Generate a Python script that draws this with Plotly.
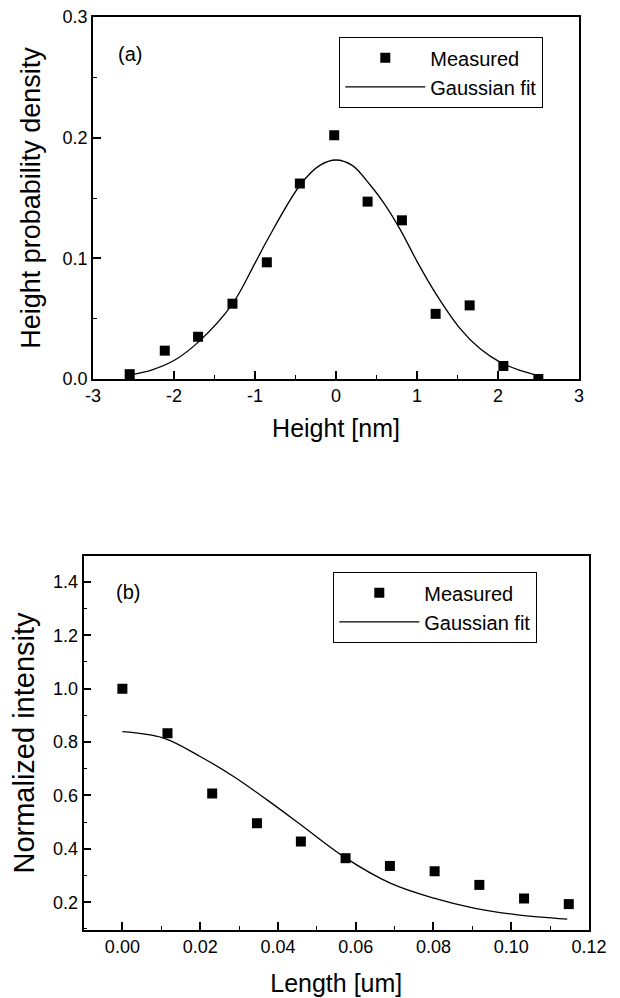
import plotly.graph_objects as go

# The page body has an 8px margin, so the figure is 8px smaller than the window
# and all reference pixel positions are shifted by 8px.
OFF = 8
W, H = 620 - OFF, 998 - OFF
FONT = "Arial, Liberation Sans, sans-serif"


def px(x):
    return (x - OFF) / W


def py(y):
    return 1 - (y - OFF) / H


# ---------------- Panel (a) data ----------------
height_nm = [-2.547, -2.114, -1.703, -1.278, -0.854, -0.446, -0.022, 0.39, 0.814, 1.23, 1.65, 2.066, 2.498]
height_density = [0.004, 0.0235, 0.035, 0.0624, 0.0967, 0.162, 0.202, 0.147, 0.1315, 0.054, 0.061, 0.0108, 0.0]

fit_a_x = [-2.52, -2.27, -1.99, -1.68, -1.28, -1.0, -0.85, -0.44, -0.2, 0.0, 0.2, 0.42, 0.6, 0.8, 1.0, 1.23, 1.53, 1.78, 2.03, 2.27, 2.5]
fit_a_y = [0.0036, 0.0076, 0.0157, 0.0318, 0.0620, 0.0960, 0.1150, 0.1610, 0.1770, 0.1815, 0.1770, 0.1610, 0.1450, 0.1230, 0.0975, 0.0710, 0.0420, 0.0250, 0.0138, 0.0072, 0.0030]

x_a_ticks = [-3, -2, -1, 0, 1, 2, 3]
x_a_labels = ["-3", "-2", "-1", "0", "1", "2", "3"]

# ---------------- Panel (b) data ----------------
length_um = [0.0, 0.0116, 0.0231, 0.0346, 0.0459, 0.0574, 0.0688, 0.0803, 0.0918, 0.1033, 0.1148]
norm_intensity = [1.0, 0.833, 0.607, 0.496, 0.4275, 0.365, 0.336, 0.316, 0.265, 0.214, 0.193]

fit_b_x = [0.0, 0.0106, 0.020, 0.0286, 0.0372, 0.0452, 0.0569, 0.0689, 0.0801, 0.0904, 0.1016, 0.1144]
fit_b_y = [0.839, 0.815, 0.746, 0.671, 0.5835, 0.498, 0.371, 0.2715, 0.215, 0.178, 0.153, 0.137]

series_names = ["Measured", "Gaussian fit"]

fig = go.Figure()

marker_style = dict(symbol="square", size=10, color="black")
line_style = dict(color="black", width=1.3, shape="spline", smoothing=1.0)

fig.add_trace(go.Scatter(x=height_nm, y=height_density, mode="markers", marker=marker_style,
                         name=series_names[0], xaxis="x", yaxis="y", legend="legend"))
fig.add_trace(go.Scatter(x=fit_a_x, y=fit_a_y, mode="lines", line=line_style,
                         name=series_names[1], xaxis="x", yaxis="y", legend="legend"))
fig.add_trace(go.Scatter(x=length_um, y=norm_intensity, mode="markers", marker=marker_style,
                         name=series_names[0], xaxis="x2", yaxis="y2", legend="legend2"))
fig.add_trace(go.Scatter(x=fit_b_x, y=fit_b_y, mode="lines", line=line_style,
                         name=series_names[1], xaxis="x2", yaxis="y2", legend="legend2"))


def axis(**kw):
    base = dict(showline=True, linecolor="black", linewidth=1.6, mirror=True,
                ticks="inside", ticklen=8, tickwidth=1.5, tickcolor="black",
                showgrid=False, zeroline=False, automargin=False, ticklabeloverflow="allow",
                tickfont=dict(family=FONT, size=18, color="black"))
    base.update(kw)
    return base


def minor(d):
    return dict(ticks="inside", ticklen=4, tickwidth=1.2, tickcolor="black", dtick=d, showgrid=False)


legend_common = dict(xanchor="left", yanchor="top", bordercolor="black", borderwidth=1.3,
                     bgcolor="white", font=dict(size=20, family=FONT), itemwidth=80, tracegroupgap=0)

fig.update_layout(
    width=W, height=H,
    template="none",
    paper_bgcolor="white", plot_bgcolor="white",
    margin=dict(l=0, r=0, t=0, b=0),
    font=dict(family=FONT, color="black"),
    xaxis=axis(domain=[px(93), px(579)], range=[-3, 3], tickvals=x_a_ticks, ticktext=x_a_labels,
               minor=minor(0.5), anchor="y",
               title=dict(text="Height [nm]", font=dict(size=25, family=FONT), standoff=14)),
    yaxis=axis(domain=[py(379), py(17)], range=[0, 0.3], dtick=0.1, tick0=0, tickformat=".1f",
               minor=minor(0.05), anchor="x",
               title=dict(text="Height probability density", font=dict(size=27, family=FONT), standoff=14)),
    xaxis2=axis(domain=[px(83.5), px(589)], range=[-0.01, 0.12], dtick=0.02, tick0=0, tickformat=".2f",
                minor=minor(0.01), anchor="y2",
                title=dict(text="Length [um]", font=dict(size=25, family=FONT), standoff=18)),
    yaxis2=axis(domain=[py(930), py(556)], range=[0.096, 1.497], dtick=0.2, tick0=0, tickformat=".1f",
                minor=minor(0.1), anchor="x2",
                title=dict(text="Normalized intensity", font=dict(size=29, family=FONT), standoff=12)),
    legend=dict(x=px(339), y=py(37), **legend_common),
    legend2=dict(x=px(333), y=py(572), **legend_common),
    annotations=[
        dict(text="(a)", x=px(130), y=py(54), xref="paper", yref="paper", showarrow=False,
             font=dict(size=20, family=FONT), xanchor="center", yanchor="middle"),
        dict(text="(b)", x=px(128), y=py(592), xref="paper", yref="paper", showarrow=False,
             font=dict(size=20, family=FONT), xanchor="center", yanchor="middle"),
    ],
)

fig.write_html("out.html")
